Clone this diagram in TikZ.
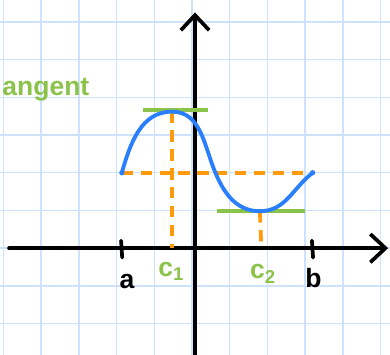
\documentclass[tikz,border=0pt]{standalone}
\usepackage{fontspec}
\setmainfont{Liberation Sans}
\usepackage{xcolor}
\usetikzlibrary{arrows.meta}

\definecolor{gridblue}{HTML}{CFE2FB}
\definecolor{curveblue}{HTML}{2A7FFF}
\definecolor{dashorange}{HTML}{FF9A0A}
\definecolor{tangreen}{HTML}{8BC34A}

\begin{document}
\begin{tikzpicture}[
    gridline/.style={draw=gridblue, line width=1.1pt},
    axis/.style={line width=2.8pt, line cap=round,
        -{Straight Barb[length=4mm, width=7.5mm]}},
    tick/.style={line width=2.8pt, line cap=round},
    curve/.style={draw=curveblue, line width=2.9pt, line cap=round},
    helper/.style={draw=dashorange, line width=2.8pt,
        dash pattern=on 3mm off 2mm},
    tangent/.style={draw=tangreen, line width=2.6pt},
    lbl/.style={font=\fontsize{20}{20}\selectfont\bfseries},
    glbl/.style={lbl, text=tangreen}
]

% --- Paper ---
\clip (-5.09,-2.81) rectangle (5.25,6.58);
\draw[gridline] (-6,-4) grid (6,7);

% --- Points on the curve ---
\coordinate (pa) at (-1.86,2.0);
\coordinate (top) at (-0.53,3.62);
\coordinate (mid) at (0.6,2.05);
\coordinate (low) at (1.8,0.98);
\coordinate (pb) at (3.2,2.0);

% --- Axes ---
\coordinate (xstart) at (-4.85,0);
\coordinate (xend) at (5.2,0);
\coordinate (ystart) at (0.08,-3);
\coordinate (yend) at (0.08,6.25);
\draw[axis] (xstart) -- (xend);
\draw[axis] (ystart) -- (yend);

% --- Ticks ---
\coordinate (ta) at (-1.88,0);
\coordinate (tb) at (3.18,0);
\draw[tick] ([yshift=2mm]ta) -- ([xshift=0.3mm,yshift=-2.5mm]ta);
\draw[tick] ([yshift=2mm]tb) -- ([xshift=0.3mm,yshift=-2.5mm]tb);

% --- Dashed helpers ---
\coordinate (c1) at (-0.53,0);
\coordinate (c2) at (1.84,0);
\draw[helper] (pa) -- (pb);
\draw[helper] (top) -- (c1);
\draw[helper] (low) -- (c2);

% --- Tangents ---
\coordinate (t1l) at (-1.3,3.66);
\coordinate (t1r) at (0.42,3.66);
\coordinate (t2l) at (0.66,0.98);
\coordinate (t2r) at (3.0,0.98);
\draw[tangent] (t1l) -- (t1r);
\draw[tangent] (t2l) -- (t2r);

% --- Curve ---
\draw[curve] (pa) to[out=74,in=180] (top)
    to[out=0,in=112] (mid)
    to[out=-68,in=180] (low)
    to[out=0,in=218] (pb);
\fill[curveblue] (pa) circle (2pt);
\fill[curveblue] (pb) circle (2pt);

% --- Labels ---
\node[lbl] (la) at (-1.72,-0.88) {a};
\node[lbl] (lb) at (3.22,-0.78) {b};
\node[glbl] (lc1) at (-0.55,-0.62) {c\textsubscript{1}};
\node[glbl] (lc2) at (1.88,-0.68) {c\textsubscript{2}};
\node[glbl, anchor=west] (ltan) at (-5.15,4.2) {angent};

\end{tikzpicture}
\end{document}
